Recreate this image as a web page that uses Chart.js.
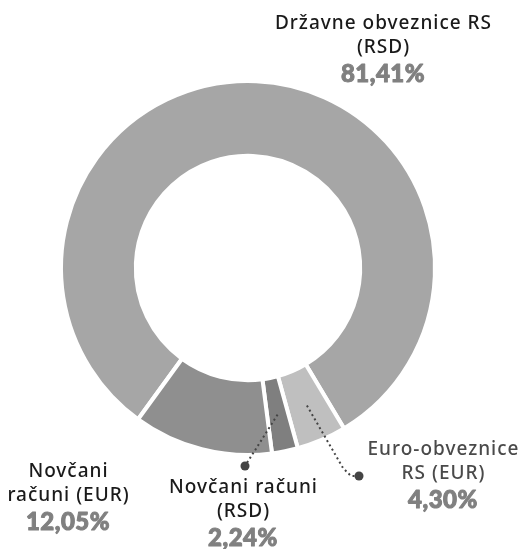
<!DOCTYPE html>
<html>
<head>
<meta charset="utf-8">
<script src="https://cdn.jsdelivr.net/npm/chart.js@4"></script>
<style>
  html, body { margin: 0; padding: 0; background: #fff; }
  canvas { display: block; }
</style>
</head>
<body>
<canvas id="myChart" width="526" height="549"></canvas>
<script>
// data
const categories = ['Državne obveznice RS (RSD)', 'Euro-obveznice RS (EUR)', 'Novčani računi (RSD)', 'Novčani računi (EUR)'];
const labelLines = [
    ['Državne obveznice RS', '(RSD)'],
    ['Euro-obveznice', 'RS (EUR)'],
    ['Novčani računi', '(RSD)'],
    ['Novčani', 'računi (EUR)']
];
const shares = [81.41, 4.30, 2.24, 12.05];
const sliceColors = ['#a6a6a6', '#bfbfbf', '#7f7f7f', '#8f8f8f'];

// where each label sits, relative to the donut centre (dx, baseline of first line)
const labelPlace = [
    { dx: 135, dy: -239, color: '#1a1a1a' },
    { dx: 195, dy: 187, color: '#4a4a4a' },
    { dx: -5, dy: 225, color: '#1a1a1a' },
    { dx: -180, dy: 209, color: '#1a1a1a' }
];
// leader lines: which slice, then bend points relative to centre, last one is the dot
const leaders = [
    { index: 2, path: [[-3, 198]] },
    { index: 1, path: [[95, 200], [103, 208], [111, 208]] }
];

const fmtPct = v => v.toFixed(2).replace('.', ',') + '%';

const labelPlugin = {
    id: 'sliceLabels',
    afterDraw(chart) {
        const ctx = chart.ctx;
        const arcs = chart.getDatasetMeta(0).data;
        const cx = arcs[0].x, cy = arcs[0].y;

        // leader lines
        ctx.save();
        ctx.strokeStyle = '#444';
        ctx.fillStyle = '#444';
        ctx.lineWidth = 2;
        ctx.setLineDash([2, 3]);
        leaders.forEach(l => {
            const p = arcs[l.index].getCenterPoint();
            ctx.beginPath();
            ctx.moveTo(p.x, p.y);
            l.path.forEach(pt => ctx.lineTo(cx + pt[0], cy + pt[1]));
            ctx.stroke();
            const end = l.path[l.path.length - 1];
            ctx.beginPath();
            ctx.arc(cx + end[0], cy + end[1], 4.5, 0, Math.PI * 2);
            ctx.fill();
        });
        ctx.restore();

        // texts
        ctx.save();
        ctx.textAlign = 'center';
        ctx.textBaseline = 'alphabetic';
        ctx.lineJoin = 'round';
        labelLines.forEach((lines, i) => {
            const pl = labelPlace[i];
            const x = cx + pl.dx;
            let y = cy + pl.dy;
            ctx.font = '500 19px "Noto Sans"';
            ctx.letterSpacing = '1px';
            ctx.fillStyle = pl.color;
            lines.forEach((t, k) => {
                ctx.fillText(t, x + 0.5, y + k * 23.5);
            });
            ctx.letterSpacing = '0.5px';
            ctx.font = '900 24px "Lato"';
            ctx.fillStyle = '#808080';
            ctx.strokeStyle = '#808080';
            ctx.lineWidth = 1;
            const pct = fmtPct(shares[i]);
            ctx.fillText(pct, x, y + 23.5 + 29.5);
            ctx.strokeText(pct, x, y + 23.5 + 29.5);
        });
        ctx.restore();
    }
};

const ctx = document.getElementById('myChart').getContext('2d');
new Chart(ctx, {
    type: 'doughnut',
    data: {
        labels: categories,
        datasets: [{
            data: shares,
            backgroundColor: sliceColors,
            borderColor: '#ffffff',
            borderWidth: 4,
            hoverOffset: 0
        }]
    },
    options: {
        responsive: false,
        animation: false,
        rotation: 216,
        cutout: '60%',
        layout: {
            padding: { left: 59, right: 89, top: 79, bottom: 92 }
        },
        plugins: {
            legend: { display: false },
            tooltip: { enabled: false }
        }
    },
    plugins: [labelPlugin]
});
</script>
</body>
</html>
